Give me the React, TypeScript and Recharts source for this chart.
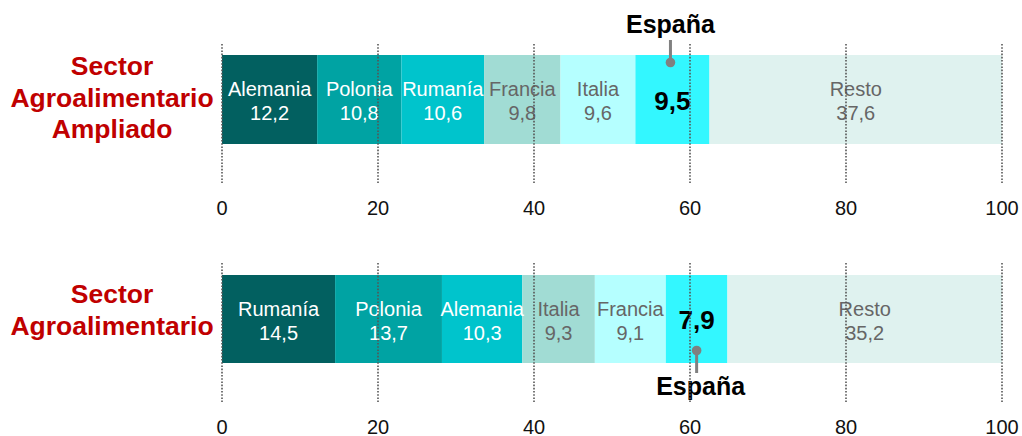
import React from 'react';
import { BarChart, Bar, XAxis, YAxis, LabelList } from 'recharts';

// position keys: colours go by rank inside each bar, not by country
const seriesKeys = ['p1', 'p2', 'p3', 'p4', 'p5', 'p6', 'p7'];
const segmentColors = ['#026060', '#00A3A3', '#00C4CC', '#A1DCD4', '#B5FFFF', '#33F7FF', '#DFF2EF'];
const segmentText = ['#FFFFFF', '#FFFFFF', '#FFFFFF', '#666666', '#666666', '#000000', '#666666'];

const xTicks = [0, 20, 40, 60, 80, 100];

const ampliadoLabel = ['Sector', 'Agroalimentario', 'Ampliado'];
const ampliadoCountries = ['Alemania', 'Polonia', 'Rumanía', 'Francia', 'Italia', 'España', 'Resto'];
const ampliadoValues = [12.2, 10.8, 10.6, 9.8, 9.6, 9.5, 37.6];

const agroLabel = ['Sector', 'Agroalimentario'];
const agroCountries = ['Rumanía', 'Polonia', 'Alemania', 'Italia', 'Francia', 'España', 'Resto'];
const agroValues = [14.5, 13.7, 10.3, 9.3, 9.1, 7.9, 35.2];

const FONT = '"Liberation Sans", Arial, sans-serif';
const fmt = (v: number) => v.toFixed(1).replace('.', ',');

const GridTick = ({ x, y, payload }: any) => (
  <g>
    <line x1={x} x2={x} y1={y - 100} y2={y + 39} stroke="#555" strokeWidth={1.6} strokeDasharray="1.6 1.6" />
    <text x={x} y={y + 71} textAnchor="middle" fontSize={20} fill="#111" fontFamily={FONT}>
      {payload.value}
    </text>
  </g>
);

const makeRowTick = (lines: string[], firstDy: number) => ({ x, y }: any) => (
  <text x={x - 110} y={y + firstDy} textAnchor="middle" fontSize={26.5} fontWeight="bold" fill="#C00000" fontFamily={FONT}>
    {lines.map((l, i) => (
      <tspan key={i} x={x - 110} dy={i === 0 ? 0 : 31.5}>{l}</tspan>
    ))}
  </text>
);

const makeSegLabel = (name: string, idx: number, spainBelow: boolean) => (props: any) => {
  const { x, y, width, height, value } = props;
  const cx = x + width / 2;
  const cy = y + height / 2;
  if (name === 'España') {
    const top = y;
    const bottom = y + height;
    return (
      <g fontFamily={FONT}>
        <text x={cx} y={cy + 10} textAnchor="middle" fontSize={26} fontWeight="bold" fill="#000">{fmt(value)}</text>
        {spainBelow ? (
          <g>
            <line x1={cx} x2={cx} y1={bottom - 12} y2={bottom + 10} stroke="#808080" strokeWidth={3} />
            <circle cx={cx} cy={bottom - 12.5} r={4.8} fill="#808080" />
            <text x={cx + 4} y={bottom + 32} textAnchor="middle" fontSize={25} fontWeight="bold" fill="#000">España</text>
          </g>
        ) : (
          <g>
            <line x1={cx - 2} x2={cx - 2} y1={top - 15} y2={top + 7} stroke="#808080" strokeWidth={3} />
            <circle cx={cx - 2} cy={top + 7.5} r={4.8} fill="#808080" />
            <text x={cx - 2} y={top - 22} textAnchor="middle" fontSize={25} fontWeight="bold" fill="#000">España</text>
          </g>
        )}
      </g>
    );
  }
  return (
    <g fontFamily={FONT} fontSize={20} fill={segmentText[idx]}>
      <text x={cx} y={cy - 3.5} textAnchor="middle">{name}</text>
      <text x={cx} y={cy + 20.5} textAnchor="middle">{fmt(value)}</text>
    </g>
  );
};

interface RowProps {
  label: string[];
  countries: string[];
  values: number[];
  height: number;
  barHeight: number;
  firstDy: number;
  spainBelow: boolean;
}

function StackRow({ label, countries, values, height, barHeight, firstDy, spainBelow }: RowProps) {
  const row: any = { name: label.join(' ') };
  seriesKeys.forEach((k, i) => { row[k] = values[i]; });
  const top = 55;
  return (
    <BarChart
      width={1022}
      height={height}
      data={[row]}
      layout="vertical"
      margin={{ top, right: 20, left: 0, bottom: 0 }}
      barCategoryGap={0}
    >
      {seriesKeys.map((k, i) => (
        <Bar key={k} dataKey={k} stackId="s" fill={segmentColors[i]} isAnimationActive={false}>
          <LabelList dataKey={k} content={makeSegLabel(countries[i], i, spainBelow)} />
        </Bar>
      ))}
      <YAxis
        type="category"
        dataKey="name"
        width={222}
        axisLine={false}
        tickLine={false}
        tickSize={0}
        tickMargin={0}
        tick={makeRowTick(label, firstDy)}
      />
      <XAxis
        type="number"
        domain={[0, 100]}
        allowDataOverflow
        ticks={xTicks}
        height={height - top - barHeight}
        axisLine={false}
        tickLine={false}
        tickSize={0}
        tickMargin={0}
        tick={<GridTick />}
        interval={0}
      />
    </BarChart>
  );
}

export default function App() {
  return (
    <div style={{ position: 'absolute', left: 0, top: 0, width: 1022, height: 436, background: '#fff', overflow: 'hidden' }}>
      <div style={{ position: 'absolute', left: 0, top: 0 }}>
        <StackRow label={ampliadoLabel} countries={ampliadoCountries} values={ampliadoValues}
          height={220} barHeight={89} firstDy={-24.5} spainBelow={false} />
      </div>
      <div style={{ position: 'absolute', left: 0, top: 220 }}>
        <StackRow label={agroLabel} countries={agroCountries} values={agroValues}
          height={216} barHeight={88} firstDy={-16} spainBelow={true} />
      </div>
    </div>
  );
}
